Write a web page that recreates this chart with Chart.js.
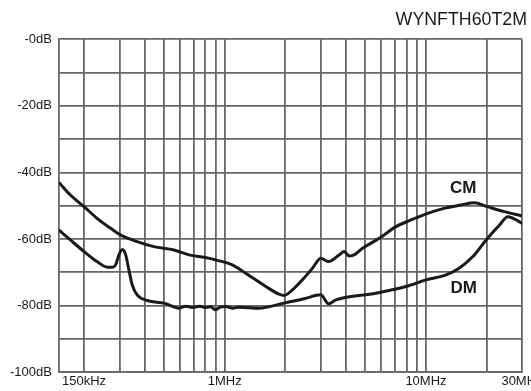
<!DOCTYPE html>
<html>
<head>
<meta charset="utf-8">
<script src="https://cdn.jsdelivr.net/npm/chart.js@4.4.1/dist/chart.umd.min.js"></script>
<style>
  html, body { margin: 0; padding: 0; background: #fff; }
  #wrap { width: 531px; height: 391px; position: relative; }
</style>
</head>
<body>
<div id="wrap"><canvas id="filterChart"></canvas></div>
<script>
// frequencies in MHz, attenuation in dB
const cmFreq = [0.15, 0.171, 0.2, 0.232, 0.271, 0.304, 0.367, 0.445, 0.56, 0.664, 0.80, 0.90, 1.09, 1.27, 1.6, 1.86, 1.97, 2.17, 2.43, 2.73, 3.0, 3.28, 3.7, 3.92, 4.15, 4.4, 4.84, 5.86, 7.1, 8.42, 10.2, 12.3, 14.9, 17.4, 20.2, 24.5, 30];
const cmDb = [-43.0, -46.8, -50.3, -53.8, -56.8, -58.8, -60.8, -62.3, -63.3, -64.8, -65.6, -66.3, -67.8, -70.3, -74.3, -76.6, -77.0, -75.3, -72.3, -68.8, -65.8, -66.8, -64.8, -63.8, -65.1, -64.8, -62.8, -59.8, -56.3, -54.3, -52.3, -50.8, -49.8, -49.1, -50.3, -51.8, -53.1];

const dmFreq = [0.15, 0.171, 0.2, 0.232, 0.261, 0.276, 0.287, 0.298, 0.31, 0.322, 0.334, 0.347, 0.367, 0.412, 0.499, 0.593, 0.64, 0.69, 0.75, 0.804, 0.85, 0.902, 0.95, 1.01, 1.1, 1.18, 1.48, 1.97, 2.48, 3.0, 3.28, 3.57, 5.64, 7.95, 10, 12.6, 14.6, 17.1, 19.9, 23.2, 25.5, 30];
const dmDb = [-57.3, -60.3, -63.8, -66.8, -68.5, -68.5, -67.8, -64.8, -63.2, -64.8, -69.3, -73.8, -76.8, -78.5, -79.3, -80.8, -80.2, -80.6, -80.2, -80.6, -80.4, -81.3, -80.5, -80.3, -80.8, -80.5, -80.8, -79.3, -78.0, -76.8, -79.5, -78.3, -76.3, -74.3, -72.3, -70.8, -68.8, -65.3, -60.3, -55.8, -53.3, -55.3];

// grid lines on the log axis, and which of them carry a label
const gridFreq = [0.2, 0.3, 0.4, 0.5, 0.6, 0.7, 0.8, 0.9, 1, 2, 3, 4, 5, 6, 7, 8, 9, 10, 20, 30];
const freqLabels = { 0.2: '150kHz', 1: '1MHz', 10: '10MHz', 30: '30MHz' };

// curve names written on the plot
const tagText = ['CM', 'DM'];
const tagFreq = [15.3, 15.4];
const tagDb = [-44.7, -74.8];

const ink = '#1a1a1a';
const gridCol = '#666';

Chart.defaults.font.family = '"Liberation Sans", Arial, sans-serif';
Chart.defaults.color = '#1a1a1a';

const tagPlugin = {
    id: 'tags',
    afterDatasetsDraw(chart) {
        const { ctx, scales: { x, y } } = chart;
        ctx.save();
        ctx.font = 'bold 17px "Liberation Sans", Arial, sans-serif';
        ctx.fillStyle = ink;
        ctx.textAlign = 'center';
        ctx.textBaseline = 'middle';
        tagText.forEach((t, i) => {
            ctx.fillText(t, x.getPixelForValue(tagFreq[i]), y.getPixelForValue(tagDb[i]));
        });
        ctx.restore();
    }
};

const ctx = document.getElementById('filterChart');
new Chart(ctx, {
    type: 'line',
    data: {
        datasets: [
            {
                label: 'CM',
                data: cmFreq.map((f, i) => ({ x: f, y: cmDb[i] })),
                borderColor: ink,
                borderWidth: 3,
                pointRadius: 0,
                cubicInterpolationMode: 'monotone',
                fill: false
            },
            {
                label: 'DM',
                data: dmFreq.map((f, i) => ({ x: f, y: dmDb[i] })),
                borderColor: ink,
                borderWidth: 3,
                pointRadius: 0,
                cubicInterpolationMode: 'monotone',
                fill: false
            }
        ]
    },
    options: {
        responsive: true,
        maintainAspectRatio: false,
        animation: false,
        layout: { padding: { left: 3, right: 4, top: 0, bottom: 0 } },
        plugins: {
            legend: { display: false },
            tooltip: { enabled: false },
            title: {
                display: true,
                text: 'WYNFTH60T2M',
                align: 'end',
                color: '#1a1a1a',
                font: { size: 17.8, weight: 'normal' },
                padding: { top: 9, bottom: 9 }
            }
        },
        scales: {
            x: {
                type: 'logarithmic',
                min: 0.15,
                max: 30,
                afterBuildTicks: (scale) => {
                    scale.ticks = gridFreq.map(v => ({ value: v }));
                },
                afterFit: (scale) => {
                    scale.paddingLeft = 0;
                    scale.paddingRight = 9;
                },
                ticks: {
                    autoSkip: false,
                    maxRotation: 0,
                    padding: 1.7,
                    font: { size: 13 },
                    callback: (v) => freqLabels[v] || ''
                },
                grid: { color: gridCol, lineWidth: 1.8, drawTicks: false },
                border: { color: gridCol, width: 1.8 }
            },
            y: {
                min: -100,
                max: 0,
                ticks: {
                    stepSize: 10,
                    padding: 7,
                    font: { size: 13 },
                    callback: (v) => v % 20 === 0 ? (v === 0 ? '-0dB' : v + 'dB') : ''
                },
                grid: { color: gridCol, lineWidth: 1.8, drawTicks: false },
                border: { color: gridCol, width: 1.8 }
            }
        }
    },
    plugins: [tagPlugin]
});
</script>
</body>
</html>
